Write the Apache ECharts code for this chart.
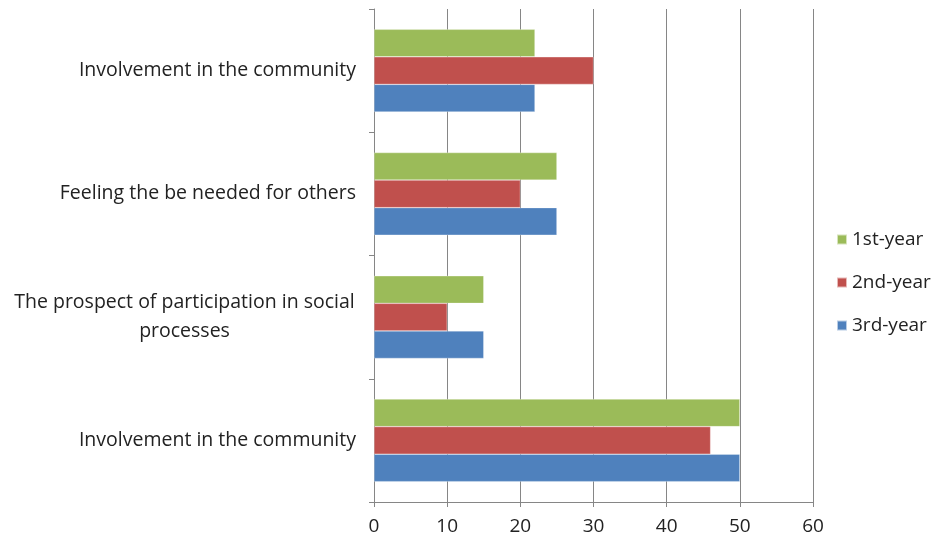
<!DOCTYPE html>
<html><head><meta charset="utf-8">
<script src="https://cdn.jsdelivr.net/npm/echarts@6/dist/echarts.min.js"></script>
<style>html,body{margin:0;padding:0;background:#fff}#c{width:937px;height:545px}</style>
</head><body><div id="c"></div>
<script>
const categories = ["Involvement in the community", "The prospect of participation in social\nprocesses", "Feeling the be needed for others", "Involvement in the community"];
const seriesNames = ["1st-year", "2nd-year", "3rd-year"];
const firstYear = [50, 15, 25, 22];
const secondYear = [46, 10, 20, 30];
const thirdYear = [50, 15, 25, 22];
const xTicks = [0, 10, 20, 30, 40, 50, 60];

const chart = echarts.init(document.getElementById('c'));
const font = "'Open Sans', sans-serif";
const fs = 19.5;
const axisColor = '#868686';
const ctx = document.createElement('canvas').getContext('2d');
ctx.font = fs + "px 'Open Sans'";
function measure(s) { return Math.ceil(ctx.measureText(s).width) + 2; }
const itemBorder = { borderColor: 'rgba(255,255,255,0.6)', borderWidth: 0.5 };
chart.setOption({
  animation: false,
  textStyle: { fontFamily: font },
  grid: { left: 374, right: 124, top: 9, bottom: 43, containLabel: false },
  legend: {
    orient: 'vertical', left: 831, top: 225,
    data: seriesNames,
    icon: 'rect', itemWidth: 10, itemHeight: 10, itemGap: 24,
    textStyle: { fontFamily: font, fontSize: 19, color: '#222' }
  },
  xAxis: {
    type: 'value', min: xTicks[0], max: xTicks[xTicks.length - 1], interval: 10,
    axisLine: { show: true, lineStyle: { color: axisColor, width: 1 } },
    axisTick: { show: true, length: 5, inside: false, lineStyle: { color: axisColor } },
    splitLine: { show: true, lineStyle: { color: axisColor, width: 1 } },
    axisLabel: { fontFamily: font, fontSize: 19, color: '#222', margin: 15 }
  },
  yAxis: {
    type: 'category', data: categories,
    axisLine: { show: true, lineStyle: { color: axisColor, width: 1 } },
    axisTick: { show: true, length: 5, inside: false, lineStyle: { color: axisColor } },
    axisLabel: {
      fontFamily: font, fontSize: fs, color: '#222', margin: 18, align: 'right', lineHeight: 29,
      formatter: function (v) {
        if (v.indexOf('\n') < 0) return v;
        const lines = v.split('\n');
        return lines.map(l => '{c|' + l + '}').join('\n');
      },
      rich: { c: { width: measure("The prospect of participation in social"), align: 'center', fontSize: fs, fontFamily: font, color: '#222', lineHeight: 29 } }
    }
  },
  series: [
    { name: '1st-year', type: 'bar', data: firstYear, barGap: '0%', barCategoryGap: '33%', itemStyle: Object.assign({ color: '#9BBB59' }, itemBorder) },
    { name: '2nd-year', type: 'bar', data: secondYear, barGap: '0%', barCategoryGap: '33%', itemStyle: Object.assign({ color: '#C0504D' }, itemBorder) },
    { name: '3rd-year', type: 'bar', data: thirdYear, barGap: '0%', barCategoryGap: '33%', itemStyle: Object.assign({ color: '#4F81BD' }, itemBorder) }
  ]
});
</script></body></html>
